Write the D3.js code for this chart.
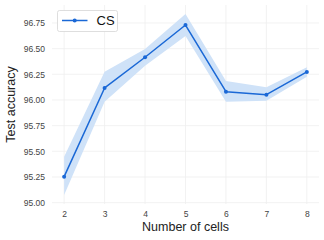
<!DOCTYPE html>
<html>
<head>
<meta charset="utf-8">
<script src="https://cdn.jsdelivr.net/npm/d3@7"></script>
<style>
  body { margin: 0; background: #fff; }
  text { font-family: "Liberation Sans", Arial, sans-serif; }
</style>
</head>
<body>
<svg id="chart" width="324" height="240"></svg>
<script>
// number of cells vs test accuracy (mean and band)
const cells = [2, 3, 4, 5, 6, 7, 8];
const accMean = [95.253, 96.117, 96.416, 96.730, 96.081, 96.052, 96.273];
const accLow = [95.075, 95.983, 96.334, 96.623, 95.983, 95.993, 96.227];
const accHigh = [95.448, 96.276, 96.497, 96.837, 96.185, 96.124, 96.318];
const yTicks = [95.00, 95.25, 95.50, 95.75, 96.00, 96.25, 96.50, 96.75];
const seriesName = "CS";

const width = 324, height = 240;
const margin = {top: 5, right: 5, bottom: 36, left: 52};
const lineColor = "#1a68d6";
const bandColor = "#cfe2f8";

const svg = d3.select("#chart");

const data = cells.map((c, i) => ({x: c, m: accMean[i], lo: accLow[i], hi: accHigh[i]}));

const x = d3.scaleLinear()
    .domain([1.7, 8.3])
    .range([margin.left, width - margin.right]);
const y = d3.scaleLinear()
    .domain([94.987, 96.925])
    .range([height - margin.bottom, margin.top]);

// grid
const grid = svg.append("g");
grid.selectAll(".hg")
    .data(yTicks)
    .enter().append("line")
    .attr("x1", x.range()[0]).attr("x2", x.range()[1])
    .attr("y1", d => y(d)).attr("y2", d => y(d))
    .attr("stroke", "#efefef").attr("stroke-width", 0.8);
grid.selectAll(".vg")
    .data(cells)
    .enter().append("line")
    .attr("y1", y.range()[0]).attr("y2", y.range()[1])
    .attr("x1", d => x(d)).attr("x2", d => x(d))
    .attr("stroke", "#efefef").attr("stroke-width", 0.8);

// axes
const yAxis = g => g
    .attr("transform", `translate(${margin.left},0)`)
    .call(d3.axisLeft(y).tickValues(yTicks).tickFormat(d3.format(".2f")).tickSize(0).tickPadding(7))
    .call(g => g.select(".domain").remove());
const xAxis = g => g
    .attr("transform", `translate(0,${height - margin.bottom})`)
    .call(d3.axisBottom(x).tickValues(cells).tickFormat(d3.format("d")).tickSize(0).tickPadding(7))
    .call(g => g.select(".domain").remove());

svg.append("g").call(yAxis);
svg.append("g").call(xAxis);
svg.selectAll(".tick text")
    .attr("font-family", "Liberation Sans, Arial, sans-serif")
    .attr("font-size", 8.5)
    .attr("fill", "#444");

// band
const area = d3.area()
    .x(d => x(d.x))
    .y0(d => y(d.lo))
    .y1(d => y(d.hi));
svg.append("path")
    .datum(data)
    .attr("fill", bandColor)
    .attr("d", area);

// line
const line = d3.line()
    .x(d => x(d.x))
    .y(d => y(d.m));
svg.append("path")
    .datum(data)
    .attr("fill", "none")
    .attr("stroke", lineColor)
    .attr("stroke-width", 1.5)
    .attr("stroke-linejoin", "round")
    .attr("d", line);

svg.selectAll(".pt")
    .data(data)
    .enter().append("circle")
    .attr("cx", d => x(d.x))
    .attr("cy", d => y(d.m))
    .attr("r", 2)
    .attr("fill", lineColor);

// axis labels
svg.append("text")
    .attr("x", (margin.left + width - margin.right) / 2)
    .attr("y", 231)
    .attr("text-anchor", "middle")
    .attr("font-size", 12.5)
    .attr("fill", "#222")
    .text("Number of cells");
svg.append("text")
    .attr("transform", `translate(15,${(margin.top + height - margin.bottom) / 2}) rotate(-90)`)
    .attr("text-anchor", "middle")
    .attr("font-size", 12.5)
    .attr("fill", "#222")
    .text("Test accuracy");

// legend
const legend = svg.append("g");
legend.append("rect")
    .attr("x", 57.5).attr("y", 10.5)
    .attr("width", 60).attr("height", 21)
    .attr("rx", 2)
    .attr("fill", "#fff")
    .attr("stroke", "#d6d6d6")
    .attr("stroke-width", 0.8);
legend.append("line")
    .attr("x1", 62).attr("x2", 87.5)
    .attr("y1", 20.5).attr("y2", 20.5)
    .attr("stroke", lineColor).attr("stroke-width", 1.5);
legend.append("circle")
    .attr("cx", 74.7).attr("cy", 20.5).attr("r", 2)
    .attr("fill", lineColor);
legend.append("text")
    .attr("x", 96.5).attr("y", 25.3)
    .attr("font-size", 13)
    .attr("fill", "#111")
    .text(seriesName);
</script>
</body>
</html>
